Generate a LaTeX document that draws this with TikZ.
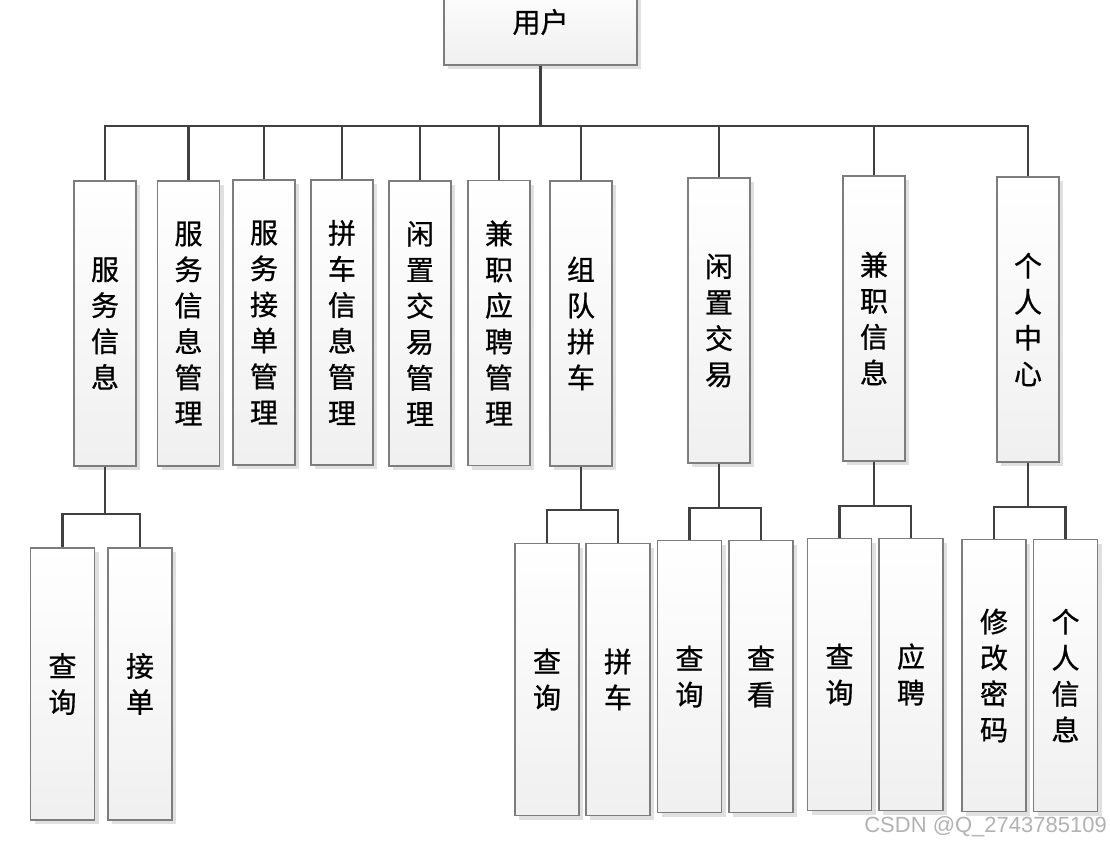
\documentclass[tikz,border=0pt]{standalone}
\usepackage{fontspec}
\newfontfamily\cjk[FakeBold=0.8]{Noto Sans CJK SC}
\setmainfont{Liberation Sans}
\usetikzlibrary{shadows}
\definecolor{boxline}{RGB}{125,125,125}
\definecolor{wire}{RGB}{64,64,64}
\tikzset{
  box/.style={draw=boxline, line width=1.2pt, top color=white, bottom color=black!6,
    drop shadow={fill=black!12, shadow xshift=4pt, shadow yshift=-4pt, opacity=1},
    inner sep=0pt, align=center, font=\cjk\fontsize{28}{36}\selectfont},
  topbox/.style={box, minimum width=193pt, minimum height=86pt},
  midbox/.style={box, minimum width=62pt, minimum height=285pt},
  leafbox/.style={box, minimum width=64pt, minimum height=272pt},
  wire/.style={draw=wire, line width=2.4pt}
}
\begin{document}
\begin{tikzpicture}[x=1pt,y=1pt]
  \useasboundingbox (0,0) rectangle (1110,-848);
  % root
  \node[topbox] (user) at (540.5,-22) {用户};
  % first level
  \node[midbox] (fwxx)   at (105,-323.5)   {服\\务\\信\\息};
  \node[midbox] (fwxxgl) at (188.5,-323.5) {服\\务\\信\\息\\管\\理};
  \node[midbox] (fwjdgl) at (264,-322.5)   {服\\务\\接\\单\\管\\理};
  \node[midbox] (pcxxgl) at (342,-322.5)   {拼\\车\\信\\息\\管\\理};
  \node[midbox] (xzjygl) at (420,-323.5)   {闲\\置\\交\\易\\管\\理};
  \node[midbox] (jzypgl) at (499,-323)     {兼\\职\\应\\聘\\管\\理};
  \node[midbox] (zdpc)   at (581,-323.5)   {组\\队\\拼\\车};
  \node[midbox] (xzjy)   at (719,-320.5)   {闲\\置\\交\\易};
  \node[midbox] (jzxx)   at (874,-318.5)   {兼\\职\\信\\息};
  \node[midbox] (grzx)   at (1028,-319.5)  {个\\人\\中\\心};
  % second level
  \node[leafbox] (fwcx) at (62.5,-684)   {查\\询};
  \node[leafbox] (fwjd) at (140,-684)    {接\\单};
  \node[leafbox] (zdcx) at (547,-679.5)  {查\\询};
  \node[leafbox] (zdpcx) at (618,-679.5) {拼\\车};
  \node[leafbox] (xzcx) at (689.5,-676.5) {查\\询};
  \node[leafbox] (xzck) at (761,-676.5)  {查\\看};
  \node[leafbox] (jzcx) at (839.5,-674.5) {查\\询};
  \node[leafbox] (jzyp) at (911,-674.5)  {应\\聘};
  \node[leafbox] (grxg) at (994,-675.5)  {修\\改\\密\\码};
  \node[leafbox] (grxx) at (1065.5,-675.5) {个\\人\\信\\息};
  % buses
  \coordinate (bus0) at (0,-126);
  \coordinate (busfw) at (0,-514);
  \coordinate (buszd) at (0,-510);
  \coordinate (busxz) at (0,-508);
  \coordinate (busjz) at (0,-506);
  \coordinate (busgr) at (0,-507);
  % connectors
  \foreach \n in {fwxx,fwxxgl,fwjdgl,pcxxgl,xzjygl,jzypgl,zdpc,xzjy,jzxx,grzx}
    \draw[wire] (user.south) -- (user.south |- bus0) -| (\n.north);
  \foreach \p/\b/\a/\c in {fwxx/busfw/fwcx/fwjd, zdpc/buszd/zdcx/zdpcx,
      xzjy/busxz/xzcx/xzck, jzxx/busjz/jzcx/jzyp, grzx/busgr/grxg/grxx}{
    \draw[wire] (\p.south) -- (\p.south |- \b) -| (\a.north);
    \draw[wire] (\p.south) -- (\p.south |- \b) -| (\c.north);
  }
  % watermark
  \node[text=black!30, font=\fontsize{22}{22}\selectfont, anchor=east, inner sep=0pt] (mark) at (1107,-827) {CSDN @Q\_2743785109};
\end{tikzpicture}
\end{document}
